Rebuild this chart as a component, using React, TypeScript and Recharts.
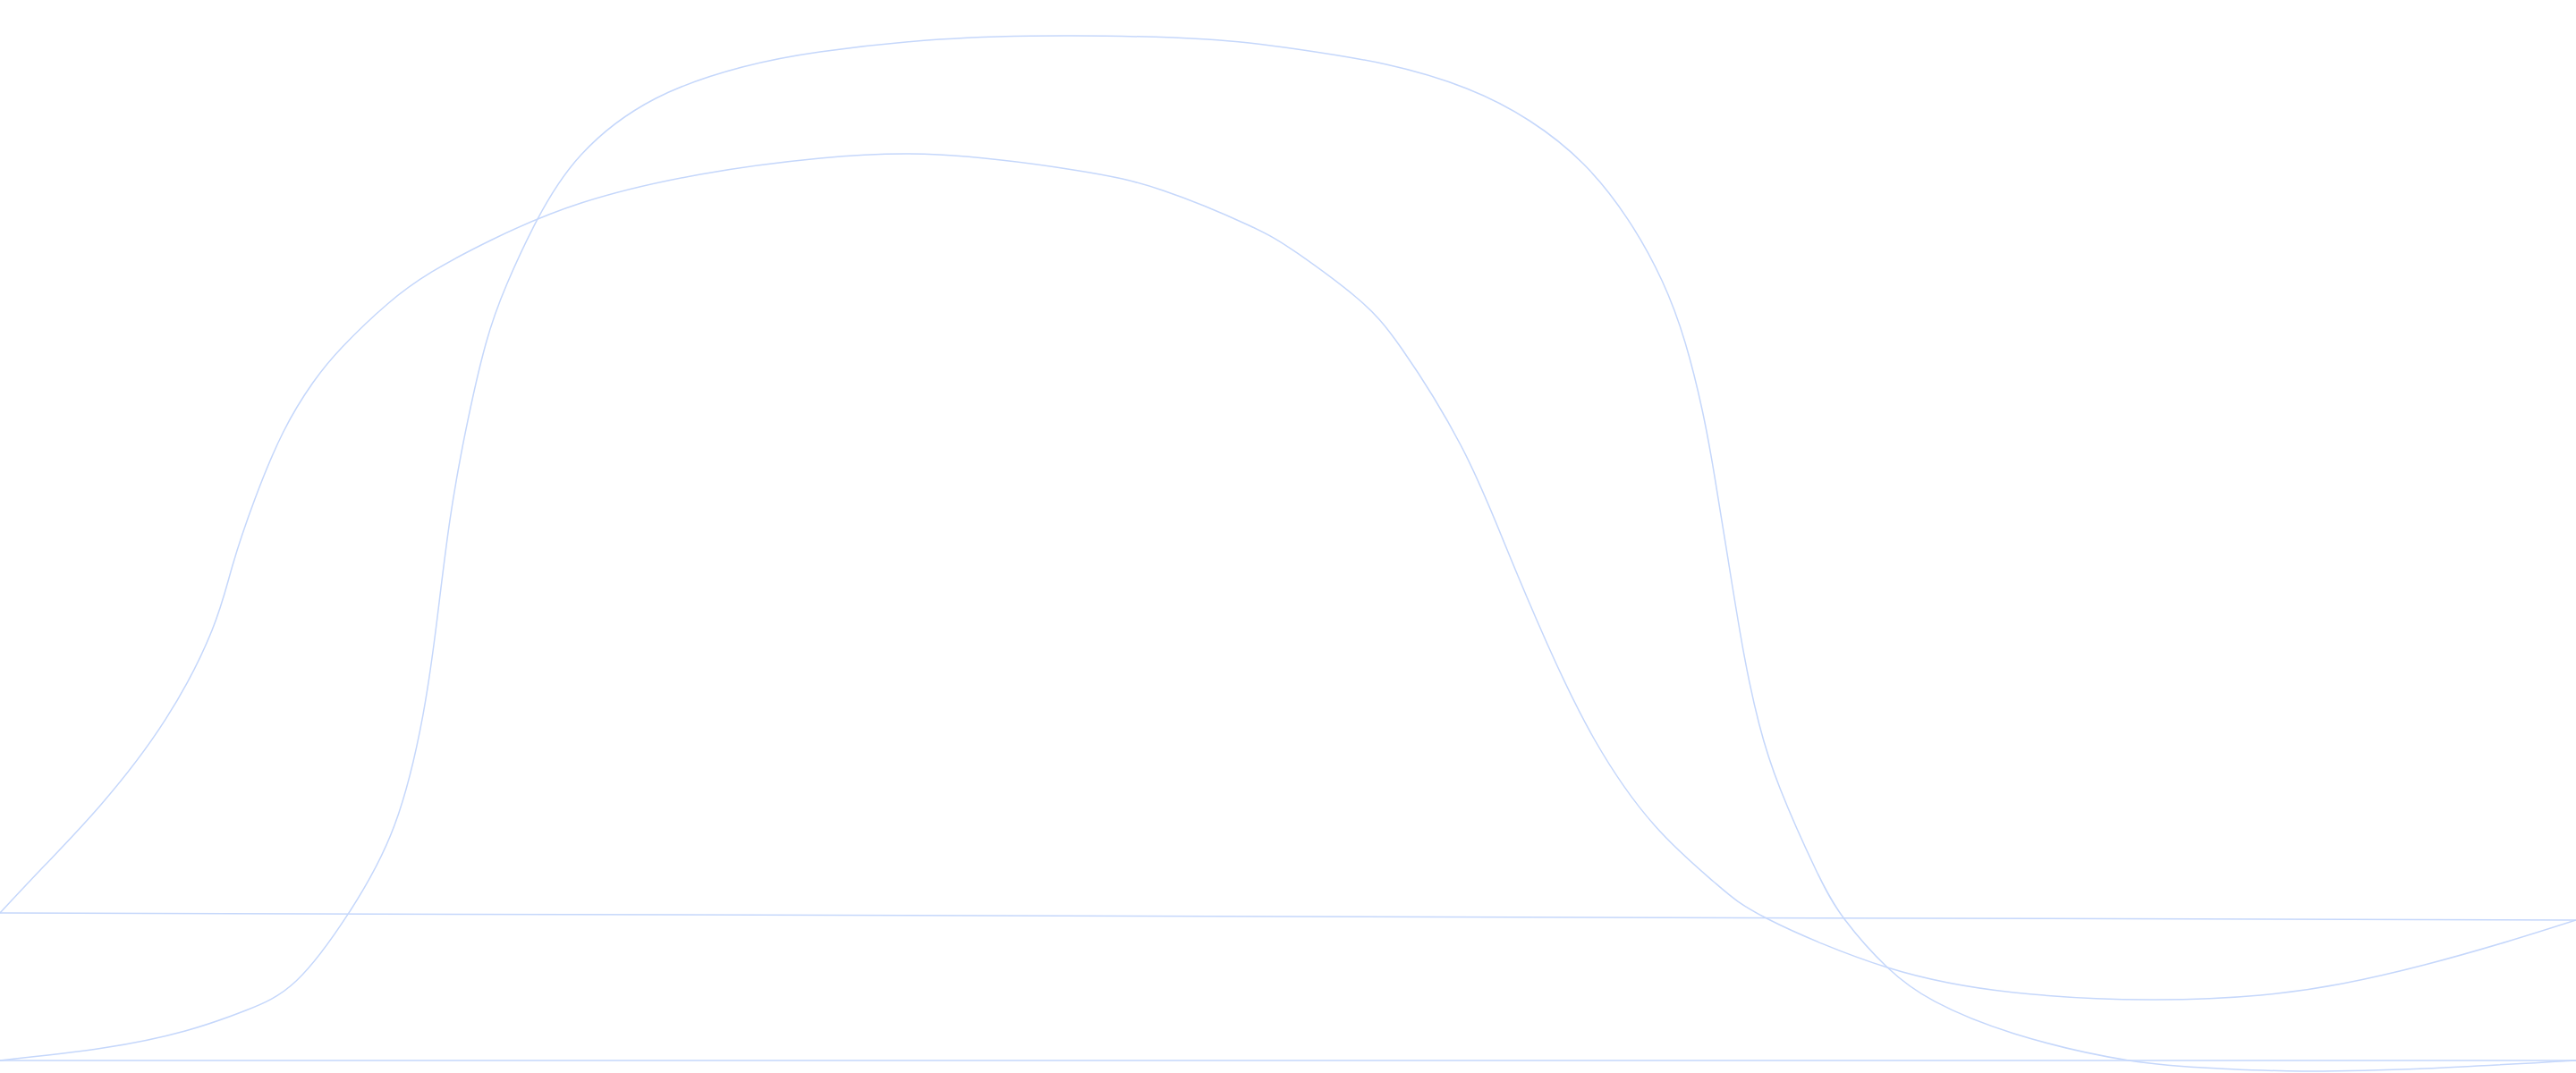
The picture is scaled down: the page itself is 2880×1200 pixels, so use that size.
import { ComposedChart, Line, XAxis, YAxis } from "recharts";

// x in 0..48, y in 0..100 (chart units)
const tallX = [
  0, 1.92, 3.45, 4.58, 5.52, 6.5, 7.35, 7.88, 8.15, 8.38, 8.67, 9.05, 9.45, 10, 10.83, 12.22,
  13.83, 15.28, 17.5, 20, 22.5, 24.17, 25.83, 27.33, 28.5, 29.5, 30.33, 30.97, 31.4, 31.72,
  31.95, 32.22, 32.5, 32.78, 33.17, 33.83, 34.37, 35.17, 36.05, 37.53, 39.67, 41.35, 42.88,
  45.18, 48,
];
const tallY = [
  1.17, 2.33, 3.92, 5.83, 8.58, 14.92, 23.08, 33.33, 42.5, 51.42, 59.67, 67.92, 73.58, 79.42,
  85.58, 90.83, 93.75, 95.17, 96.33, 96.67, 96.33, 95.42, 94, 91.75, 88.75, 84.75, 79.58, 73.83,
  68.08, 61.75, 55.58, 47.25, 38.92, 32.5, 26.5, 19, 14.33, 9.83, 6.67, 3.67, 1.17, 0.42, 0.17,
  0.42, 1.17,
];

const wideX = [
  0, 0.83, 1.88, 3.08, 3.95, 4.33, 4.75, 5.28, 5.83, 6.38, 7.22, 8.05, 9.17, 10.83, 13.05, 15.28,
  17.5, 20, 21.67, 23.27, 24.17, 25.28, 26.12, 27.22, 28.05, 28.83, 29.72, 30.83, 31.95, 32.95,
  35.17, 37.53, 40.05, 42.12, 43.65, 45.18, 46.72, 48,
];
const wideY = [
  14.92, 19.33, 25, 32.92, 41.25, 47.25, 53.5, 59.75, 64.33, 67.67, 71.67, 74.67, 77.67, 81.08,
  83.75, 85.25, 85.58, 84.17, 82.25, 79, 76.42, 72.25, 67.5, 58.5, 49.17, 40, 31, 23.08, 17.75,
  14.33, 9.83, 7.5, 6.83, 7.25, 8.33, 10.08, 12.25, 14.25,
];

const tallBaseX = [0, 48];
const tallBaseY = [1.17, 1.17];
const wideBaseX = [0, 48];
const wideBaseY = [14.92, 14.25];

const STROKE = "#c5d7fb";

const toRows = (xs: number[], ys: number[]) => xs.map((x, i) => ({ x, y: ys[i] }));

export default function App() {
  return (
    <div style={{ position: "fixed", left: 0, top: 0, background: "#fff" }}>
      <ComposedChart width={2880} height={1200} margin={{ top: 0, right: 0, bottom: 0, left: 0 }}>
        <XAxis type="number" dataKey="x" domain={[0, 48]} hide allowDataOverflow />
        <YAxis type="number" dataKey="y" domain={[0, 100]} hide allowDataOverflow />
        <Line data={toRows(tallX, tallY)} dataKey="y" type="natural" stroke={STROKE} strokeWidth={1.5} dot={false} activeDot={false} isAnimationActive={false} />
        <Line data={toRows(tallBaseX, tallBaseY)} dataKey="y" type="linear" stroke={STROKE} strokeWidth={1.5} dot={false} activeDot={false} isAnimationActive={false} />
        <Line data={toRows(wideX, wideY)} dataKey="y" type="natural" stroke={STROKE} strokeWidth={1.5} dot={false} activeDot={false} isAnimationActive={false} />
        <Line data={toRows(wideBaseX, wideBaseY)} dataKey="y" type="linear" stroke={STROKE} strokeWidth={1.5} dot={false} activeDot={false} isAnimationActive={false} />
      </ComposedChart>
    </div>
  );
}
